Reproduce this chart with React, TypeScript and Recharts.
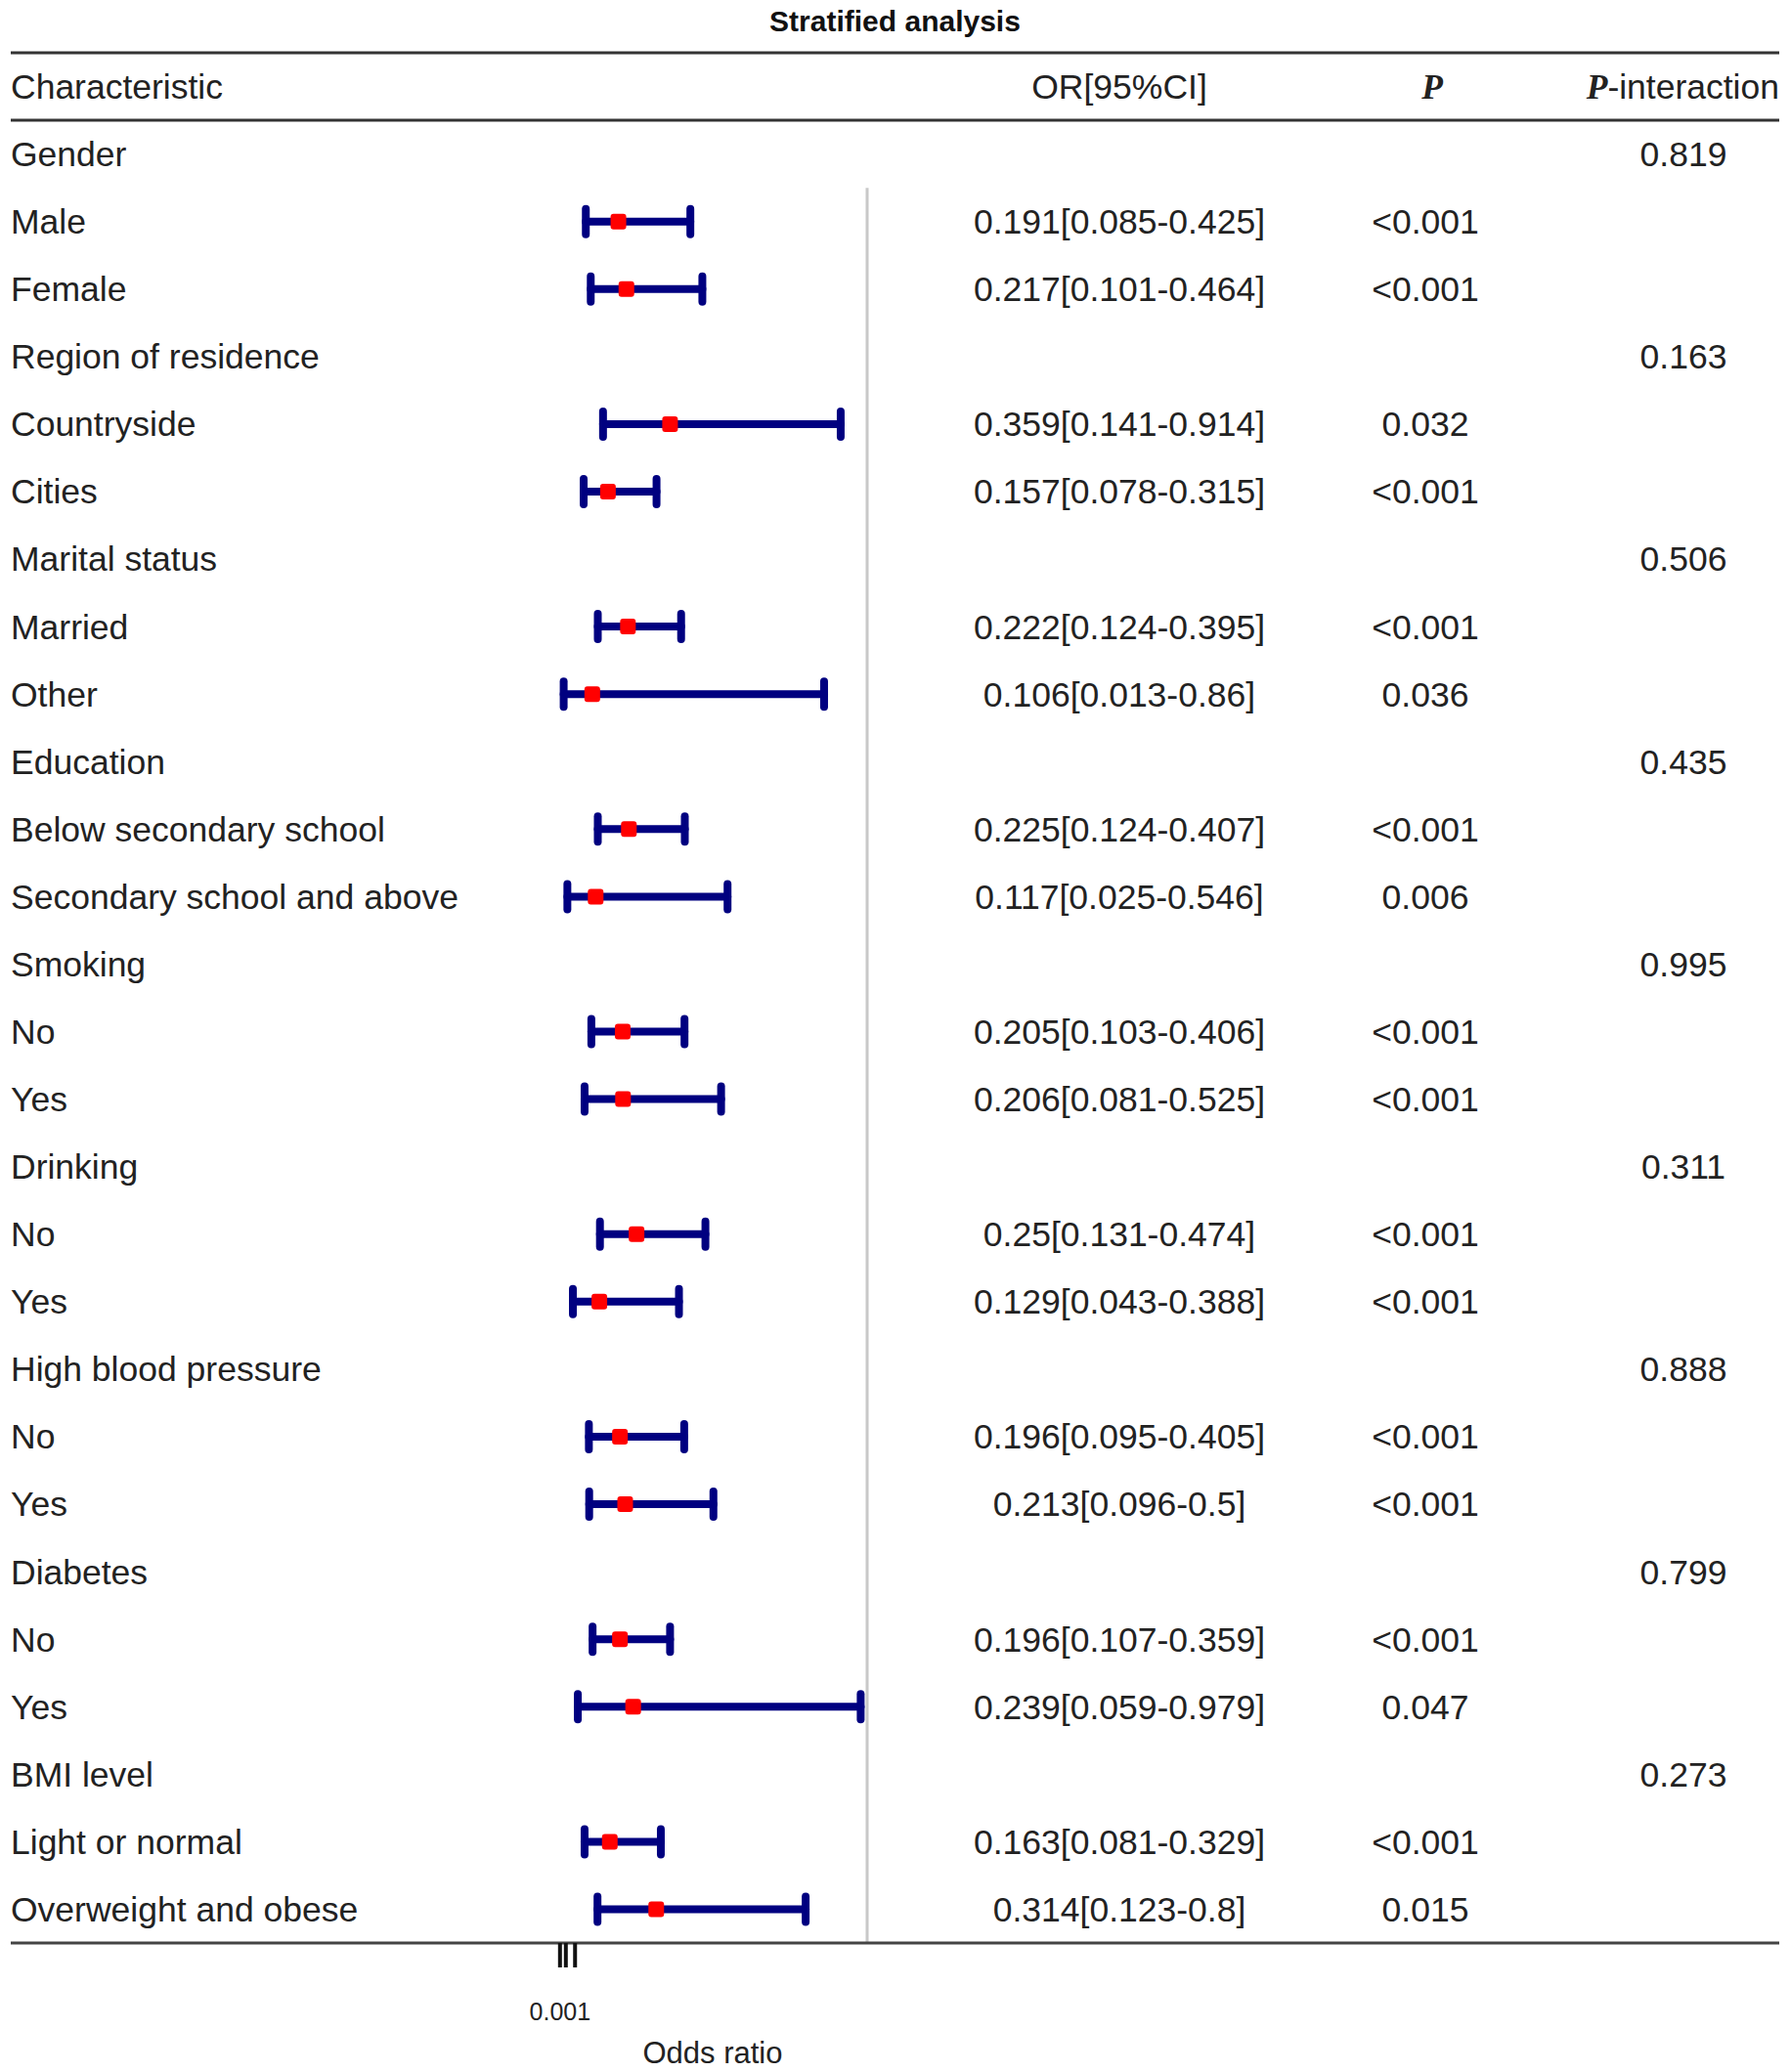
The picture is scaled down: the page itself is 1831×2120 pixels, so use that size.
import { ScatterChart, Scatter, XAxis, YAxis, ErrorBar, ReferenceLine } from 'recharts';

const groups = [
  'Gender',
  'Region of residence',
  'Marital status',
  'Education',
  'Smoking',
  'Drinking',
  'High blood pressure',
  'Diabetes',
  'BMI level',
];
const pInteraction = ['0.819', '0.163', '0.506', '0.435', '0.995', '0.311', '0.888', '0.799', '0.273'];

const subgroups = [
  'Male', 'Female',
  'Countryside', 'Cities',
  'Married', 'Other',
  'Below secondary school', 'Secondary school and above',
  'No', 'Yes',
  'No', 'Yes',
  'No', 'Yes',
  'No', 'Yes',
  'Light or normal', 'Overweight and obese',
];
const oddsRatio = [0.191, 0.217, 0.359, 0.157, 0.222, 0.106, 0.225, 0.117, 0.205, 0.206, 0.25, 0.129, 0.196, 0.213, 0.196, 0.239, 0.163, 0.314];
const ciLower = [0.085, 0.101, 0.141, 0.078, 0.124, 0.013, 0.124, 0.025, 0.103, 0.081, 0.131, 0.043, 0.095, 0.096, 0.107, 0.059, 0.081, 0.123];
const ciUpper = [0.425, 0.464, 0.914, 0.315, 0.395, 0.86, 0.407, 0.546, 0.406, 0.525, 0.474, 0.388, 0.405, 0.5, 0.359, 0.979, 0.329, 0.8];
const pValues = ['<0.001', '<0.001', '0.032', '<0.001', '<0.001', '0.036', '<0.001', '0.006', '<0.001', '<0.001', '<0.001', '<0.001', '<0.001', '<0.001', '<0.001', '0.047', '<0.001', '0.015'];

const xTicks = [0.001, 0.02, 0.05];

// build the table rows: a group heading followed by its two subgroups
type Row = { label: string; group: boolean; k?: number; pInt?: string };
const rows: Row[] = [];
groups.forEach((g, gi) => {
  rows.push({ label: g, group: true, pInt: pInteraction[gi] });
  [0, 1].forEach((j) => rows.push({ label: subgroups[gi * 2 + j], group: false, k: gi * 2 + j }));
});

const points = rows
  .map((r, i) => ({ r, i }))
  .filter(({ r }) => !r.group)
  .map(({ r, i }) => {
    const k = r.k as number;
    return { x: oddsRatio[k], y: i, err: [oddsRatio[k] - ciLower[k], ciUpper[k] - oddsRatio[k]] };
  });

const W = 1831;
const H = 2120;
const SANS = '"Liberation Sans", Arial, sans-serif';
const SERIF = '"Liberation Serif", "Times New Roman", serif';
const TXT = '#222';
const FS = 35.5;

// horizontal mapping: OR 0 sits at x=572.5, 1 unit = 314.5px, plot spans 11..1820
const zeroPx = 572.5;
const unitPx = 314.5;
const plotL = 11;
const plotR = 1820;
const xDomain = [(plotL - zeroPx) / unitPx, (plotR - zeroPx) / unitPx];

const colOR = 1145;
const colP = 1458;
const colPInt = 1722;

const RowTick = (props: any) => {
  const { y, payload } = props;
  const i = payload.value;
  const base = { fontFamily: SANS, fontSize: FS, fill: TXT, dy: '0.35em' } as any;
  if (i === -1) {
    return (
      <g>
        <text x={plotL} y={y} {...base} textAnchor="start">Characteristic</text>
        <text x={colOR} y={y} {...base} textAnchor="middle">OR[95%CI]</text>
        <text x={1465} y={y} {...base} textAnchor="middle" fontFamily={SERIF} fontWeight="bold" fontStyle="italic">P</text>
        <text x={plotR} y={y} {...base} textAnchor="end">
          <tspan fontFamily={SERIF} fontWeight="bold" fontStyle="italic">P</tspan>
          <tspan>-interaction</tspan>
        </text>
      </g>
    );
  }
  const r = rows[i];
  if (!r) return <g />;
  if (r.group) {
    return (
      <g>
        <text x={plotL} y={y} {...base} textAnchor="start">{r.label}</text>
        <text x={colPInt} y={y} {...base} textAnchor="middle">{r.pInt}</text>
      </g>
    );
  }
  const k = r.k as number;
  return (
    <g>
      <text x={plotL} y={y} {...base} textAnchor="start">{r.label}</text>
      <text x={colOR} y={y} {...base} textAnchor="middle">
        {`${oddsRatio[k]}[${ciLower[k]}-${ciUpper[k]}]`}
      </text>
      <text x={colP} y={y} {...base} textAnchor="middle">{pValues[k]}</text>
    </g>
  );
};

const OddsTick = (props: any) => {
  const { x, payload } = props;
  if (payload.value !== xTicks[0]) return <g />;
  return (
    <text x={x} y={2067} textAnchor="middle" fontFamily={SANS} fontSize={25} fill={TXT}>
      {payload.value}
    </text>
  );
};

const Square = (props: any) => {
  const { cx, cy } = props;
  return <rect x={cx - 8} y={cy - 8} width={16} height={16} rx={3} fill="#ff0000" />;
};

export default function App() {
  return (
    <div style={{ position: 'relative', width: W, height: H, background: '#fff' }}>
      <style>{'body{margin:0}'}</style>
      <div
        style={{
          position: 'absolute',
          top: 6,
          left: 0,
          width: W,
          textAlign: 'center',
          fontFamily: SANS,
          fontWeight: 'bold',
          fontSize: 30,
          lineHeight: '32px',
          color: '#111',
        }}
      >
        Stratified analysis
      </div>
      <ScatterChart width={W} height={H} margin={{ top: 54, right: W - plotR, bottom: 0, left: plotL - 1 }}>
        <XAxis
          type="number"
          dataKey="x"
          domain={xDomain}
          allowDataOverflow
          ticks={xTicks}
          interval={0}
          height={H - 1988}
          tickSize={25}
          axisLine={{ stroke: '#444', strokeWidth: 3 }}
          tickLine={{ stroke: '#111', strokeWidth: 4 }}
          tick={<OddsTick />}
          label={{
            content: () => (
              <text x={729} y={2111} textAnchor="middle" fontFamily={SANS} fontSize={31} fill={TXT}>
                Odds ratio
              </text>
            ),
          }}
        />
        <YAxis
          type="number"
          dataKey="y"
          domain={[-1.5, 26.5]}
          reversed
          allowDataOverflow
          ticks={[-1, ...rows.map((_, i) => i)]}
          interval={0}
          width={1}
          axisLine={false}
          tickLine={false}
          tick={<RowTick />}
        />
        <ReferenceLine y={-1.5} stroke="#333" strokeWidth={3} />
        <ReferenceLine y={-0.5} stroke="#333" strokeWidth={3} />
        <ReferenceLine
          segment={[{ x: 1, y: 0.5 }, { x: 1, y: 26.5 }]}
          stroke="#c8c8c8"
          strokeWidth={3}
        />
        <Scatter data={points} isAnimationActive={false} shape={<Square />}>
          <ErrorBar
            dataKey="err"
            direction="x"
            width={13}
            stroke="#000080"
            strokeWidth={8}
            strokeLinecap="round"
            isAnimationActive={false}
          />
        </Scatter>
      </ScatterChart>
    </div>
  );
}
